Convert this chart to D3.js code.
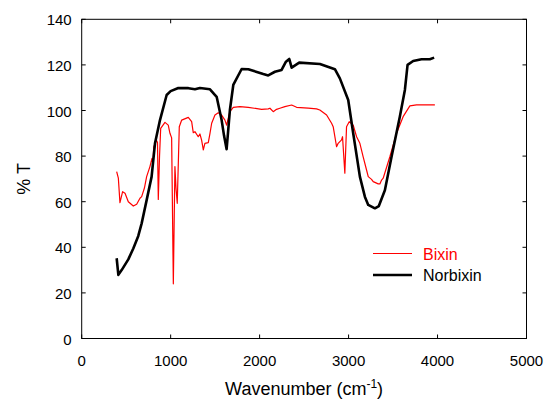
<!DOCTYPE html>
<html><head><meta charset="utf-8">
<script src="https://cdn.jsdelivr.net/npm/d3@7"></script>
<style>body{margin:0;background:#fff}svg{display:block}text{font-family:Arial,"Liberation Sans",sans-serif}</style>
</head><body><svg id="c" width="547" height="403"></svg>
<script>
const xTicks=[0,1000,2000,3000,4000,5000];
const yTicks=[0,20,40,60,80,100,120,140];
const seriesNames=["Bixin","Norbixin"];
const bixinX=[393,412,430,460,487,524,580,618,655,674,705,730,767,790,800,810,840,852,861,875,888,936,973,992,1011,1030,1048,1060,1074,1097,1124,1198,1236,1254,1273,1310,1329,1348,1367,1385,1423,1442,1461,1498,1535,1573,1610,1629,1666,1704,1779,1872,2022,2097,2116,2153,2190,2228,2284,2360,2416,2546,2640,2677,2753,2809,2827,2865,2883,2921,2932,2958,2977,3007,3052,3090,3127,3164,3202,3221,3258,3277,3333,3352,3371,3389,3464,3539,3613,3689,3764,3970];
const bixinY=[73.2,70.3,59.6,64.4,63.7,60,58.1,58.9,61.5,62.2,66,71,75.4,79,77,84,87,86,61,80,92.2,94.8,93.6,90,88,24,75.4,66,59.3,92.9,95.8,97,95.1,90.3,90.7,88.5,89.7,87,82.7,85.6,85.9,90,94.4,98,99,98,95.8,93.6,99.5,101.4,101.7,101.4,100.5,100.7,101,99.5,100.5,101,101.7,102.4,101.4,101,100.7,100.2,98,94.4,92.9,84.1,85.6,87.1,88.5,72.5,92.9,95.1,93.6,88.5,85.6,79.7,73.9,71,69.8,68.8,67.8,67.8,69.5,70.3,79.7,90,97.3,102,102.5,102.5];
const norbixinX=[393,412,449,524,580,636,674,730,786,824,880,955,1000,1086,1200,1273,1329,1442,1517,1573,1600,1629,1666,1704,1798,1873,2041,2097,2172,2247,2296,2333,2360,2445,2678,2846,2902,2996,3052,3127,3183,3221,3296,3340,3408,3483,3576,3633,3663,3726,3820,3913,3962];
const norbixinY=[35.2,27.9,30,34.7,39.5,45,50.5,60.7,71,85.6,95.8,106.8,108.5,109.9,109.8,109.3,109.9,109.3,106,95.8,89,83,100.2,111.2,118.2,118.1,116,115.4,117,117.8,121.4,122.6,118.8,121,120.4,118.1,114.1,104.6,90,71,62.2,58.6,57.1,58.1,65,79.7,97.3,109,120,121.7,122.5,122.5,123.2];
const colors=["#ff0000","#000000"];

const svg=d3.select("#c");
const L=81.7,R=526.5,T=19.3,B=338.5;
const x=d3.scaleLinear().domain([0,5000]).range([L,R]);
const y=d3.scaleLinear().domain([0,140]).range([B,T]);

const ax=svg.append("g").attr("stroke","#000");
// frame
svg.append("rect").attr("x",L).attr("y",T).attr("width",R-L).attr("height",B-T).attr("fill","none").attr("stroke","#000").attr("stroke-width",1);
// ticks
const tl=4;
svg.selectAll(".xtb").data(xTicks).join("line").attr("x1",d=>x(d)).attr("x2",d=>x(d)).attr("y1",B).attr("y2",B-tl).attr("stroke","#000");
svg.selectAll(".xtt").data(xTicks).join("line").attr("x1",d=>x(d)).attr("x2",d=>x(d)).attr("y1",T).attr("y2",T+tl).attr("stroke","#000");
svg.selectAll(".ytl").data(yTicks).join("line").attr("x1",L).attr("x2",L+tl).attr("y1",d=>y(d)).attr("y2",d=>y(d)).attr("stroke","#000");
svg.selectAll(".ytr").data(yTicks).join("line").attr("x1",R).attr("x2",R-tl).attr("y1",d=>y(d)).attr("y2",d=>y(d)).attr("stroke","#000");
// tick labels
svg.append("g").selectAll("text").data(xTicks).join("text").attr("x",d=>x(d)).attr("y",B+27).attr("text-anchor","middle").attr("font-size",15).text(d=>d);
svg.append("g").selectAll("text").data(yTicks).join("text").attr("x",L-10).attr("y",d=>y(d)+6).attr("text-anchor","end").attr("font-size",15).text(d=>d);
// axis titles
const xt=svg.append("text").attr("x",(L+R)/2).attr("y",395).attr("text-anchor","middle").attr("font-size",18);
xt.append("tspan").text("Wavenumber (cm");
xt.append("tspan").attr("dy",-7).attr("font-size",12).text("-1");
xt.append("tspan").attr("dy",7).text(")");
svg.append("text").attr("transform",`translate(30,${(T+B)/2}) rotate(-90)`).attr("text-anchor","middle").attr("font-size",18).text("% T");
// lines
const line=d3.line().x(d=>x(d[0])).y(d=>y(d[1]));
const bix=d3.zip(bixinX,bixinY), nor=d3.zip(norbixinX,norbixinY);
svg.append("path").datum(bix).attr("d",line).attr("fill","none").attr("stroke",colors[0]).attr("stroke-width",1.2).attr("stroke-linejoin","round");
svg.append("path").datum(nor).attr("d",line).attr("fill","none").attr("stroke",colors[1]).attr("stroke-width",2.6).attr("stroke-linejoin","round");
// legend
const lg=svg.append("g");
seriesNames.forEach((n,i)=>{
  const yy=253.5+i*21.5;
  lg.append("line").attr("x1",373).attr("x2",412).attr("y1",yy).attr("y2",yy).attr("stroke",colors[i]).attr("stroke-width",i?2.6:1.2);
  lg.append("text").attr("x",423).attr("y",yy+6).attr("font-size",16).attr("fill",i?"#000":"#ff0000").text(n);
});
</script></body></html>
